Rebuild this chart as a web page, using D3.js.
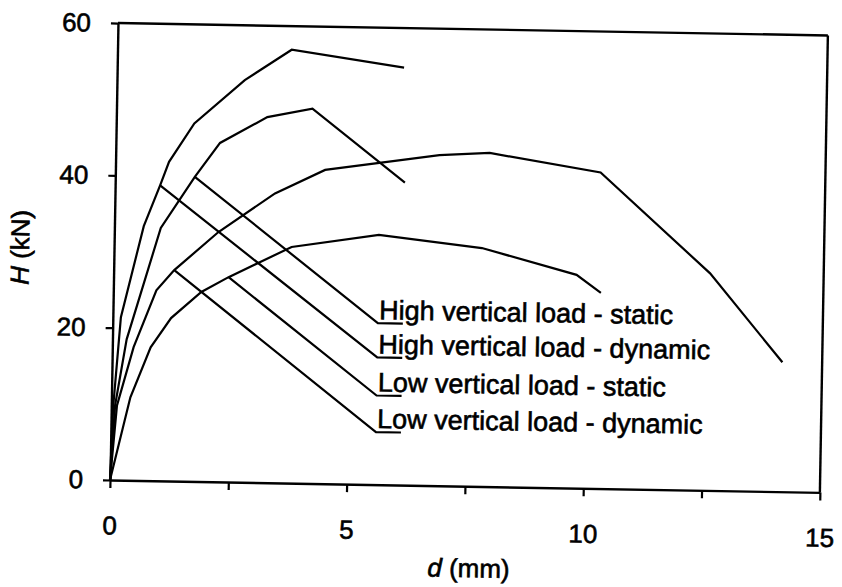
<!DOCTYPE html>
<html>
<head>
<meta charset="utf-8">
<script src="https://cdn.jsdelivr.net/npm/d3@7"></script>
<style>
  html, body { margin: 0; padding: 0; background: #fff; }
  svg { display: block; }
  text { font-family: "Liberation Sans", Arial, sans-serif; fill: #000; stroke: #000; stroke-width: 0.6px; }
</style>
</head>
<body>
<svg id="chart" width="842" height="587"></svg>
<script>
// ---- data ----
const xTickValues = [0, 2.5, 5, 7.5, 10, 12.5, 15];
const xTickLabels = ["0", "", "5", "", "10", "", "15"];
const yTickValues = [0, 20, 40, 60];
const yTickLabels = ["0", "20", "40", "60"];

const seriesNames = [
  "High vertical load - static",
  "High vertical load - dynamic",
  "Low vertical load - static",
  "Low vertical load - dynamic"
];

// High vertical load - static
const highStaticD = [0, 0.08, 0.30, 0.98, 1.68, 2.20, 3.19, 4.14, 6.12];
const highStaticH = [0, 9.8, 18.5, 33.2, 40.0, 44.5, 48.0, 49.2, 39.7];
// High vertical load - dynamic
const highDynamicD = [0, 0.04, 0.17, 0.62, 0.95, 1.13, 1.65, 2.70, 3.68, 6.06];
const highDynamicH = [0, 9.6, 21.4, 33.4, 38.8, 41.9, 47.0, 52.8, 56.9, 54.8];
// Low vertical load - static
const lowStaticD = [0, 0.40, 0.81, 1.23, 1.86, 2.43, 3.75, 5.59, 7.77, 9.78, 10.30];
const lowStaticH = [0, 10.9, 17.5, 21.4, 24.9, 26.9, 31.0, 32.8, 31.3, 28.0, 25.7];
// Low vertical load - dynamic
const lowDynamicD = [0, 0.12, 0.45, 0.91, 1.28, 2.20, 3.38, 4.43, 6.84, 7.90, 10.25, 12.60, 14.16];
const lowDynamicH = [0, 9.8, 17.5, 25.0, 27.7, 32.8, 38.0, 41.2, 43.4, 43.8, 41.5, 28.5, 17.0];

// callout: index of the point on each curve where the leader starts, and label anchor (data units)
const leaderStartIndex = [4, 4, 5, 4];
const labelAnchorD = [5.6, 5.6, 5.6, 5.6];
const labelAnchorH = [21.2, 16.7, 11.7, 6.9];

// ---- layout ----
const W = 842, H = 587;
const mLeft = 110, mRight = 820, mTop = 23, mBottom = 480;
const tilt = 1.0; // the scanned original is slightly rotated

const svg = d3.select("#chart");
svg.append("rect").attr("width", W).attr("height", H).attr("fill", "#fff");

const g = svg.append("g").attr("transform", `rotate(${tilt},${mLeft},${mBottom})`);

const x = d3.scaleLinear().domain([0, 15]).range([mLeft, mRight]);
const y = d3.scaleLinear().domain([0, 60]).range([mBottom, mTop]);

// frame (top and right)
g.append("line").attr("x1", mLeft).attr("x2", mRight).attr("y1", mTop).attr("y2", mTop)
  .attr("stroke", "#000").attr("stroke-width", 2.4);
g.append("line").attr("x1", mRight).attr("x2", mRight).attr("y1", mTop).attr("y2", mBottom)
  .attr("stroke", "#000").attr("stroke-width", 2.4);

// axes
const xAxis = d3.axisBottom(x).tickValues(xTickValues)
  .tickFormat((d, i) => xTickLabels[i]).tickSizeInner(8).tickSizeOuter(0).tickPadding(28);
const yAxis = d3.axisLeft(y).tickValues(yTickValues)
  .tickFormat((d, i) => yTickLabels[i]).tickSizeInner(7).tickSizeOuter(0).tickPadding(20);

const gx = g.append("g").attr("transform", `translate(0,${mBottom})`).call(xAxis);
const gy = g.append("g").attr("transform", `translate(${mLeft},0)`).call(yAxis);
[gx, gy].forEach(a => {
  a.select(".domain").attr("stroke", "#000").attr("stroke-width", 2.4);
  a.selectAll(".tick line").attr("stroke", "#000").attr("stroke-width", 2.2);
  a.selectAll(".tick text").attr("font-size", 26).attr("fill", "#000")
    .attr("font-family", "'Liberation Sans', Arial, sans-serif");
});

// axis titles
const yt = g.append("text")
  .attr("transform", "translate(16,249) rotate(-90)")
  .attr("text-anchor", "middle").attr("dy", "0.35em").attr("font-size", 26);
yt.append("tspan").attr("font-style", "italic").text("H");
yt.append("tspan").text(" (kN)");

const xt = g.append("text")
  .attr("x", 470).attr("y", 571)
  .attr("text-anchor", "middle").attr("font-size", 26);
xt.append("tspan").attr("font-style", "italic").text("d");
xt.append("tspan").text(" (mm)");

// curves
const series = [
  { d: highStaticD, h: highStaticH },
  { d: highDynamicD, h: highDynamicH },
  { d: lowStaticD, h: lowStaticH },
  { d: lowDynamicD, h: lowDynamicH }
];
const line = d3.line().x(p => x(p[0])).y(p => y(p[1]));

series.forEach((s, i) => {
  const pts = s.d.map((v, k) => [v, s.h[k]]);
  g.append("path").datum(pts)
    .attr("d", line)
    .attr("fill", "none").attr("stroke", "#000")
    .attr("stroke-width", 2.2).attr("stroke-linejoin", "miter");

  // callout leader + label
  const k = leaderStartIndex[i];
  const sx = x(s.d[k]), sy = y(s.h[k]);
  const ex = x(labelAnchorD[i]), ey = y(labelAnchorH[i]);
  g.append("path")
    .attr("d", `M${sx},${sy}L${ex},${ey}L${ex + 25},${ey}`)
    .attr("fill", "none").attr("stroke", "#000").attr("stroke-width", 2.2);
  g.append("text")
    .attr("x", ex + 1).attr("y", ey - 4)
    .attr("font-size", 27)
    .text(seriesNames[i]);
});
</script>
</body>
</html>
